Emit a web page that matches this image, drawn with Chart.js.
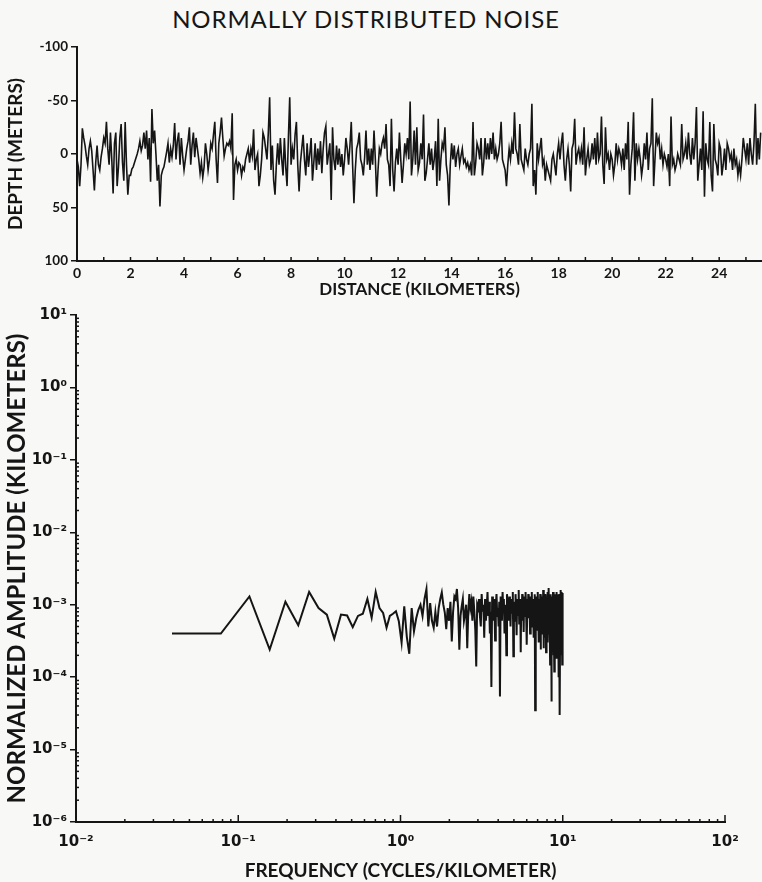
<!DOCTYPE html>
<html>
<head>
<meta charset="utf-8">
<script src="https://cdn.jsdelivr.net/npm/chart.js@4.4.1/dist/chart.umd.min.js"></script>
<style>
  body { margin: 0; background: #f8f8f7; width: 762px; height: 882px; position: relative; overflow: hidden; }
  #title { position: absolute; top: 4px; left: 0; width: 732px; text-align: center;
           font: 400 24px Lato, "DejaVu Sans", sans-serif; color: #161616; letter-spacing: 0.9px; }
  #profile { position: absolute; left: 0; top: 0; }
  #spectrum { position: absolute; left: 0; top: 300px; }
</style>
</head>
<body>
<div id="title">NORMALLY DISTRIBUTED NOISE</div>
<canvas id="profile" width="762" height="300"></canvas>
<canvas id="spectrum" width="762" height="582"></canvas>
<script>
// depth profile, one value every 0.05 km (meters, negative = up)
const SAMPLE_KM = 0.05;
const depth = [
  5, 12, 30, 10, -24, -15, -8, 2, 10, -5, -12, -3, 15, 34, 8, -8, 10, 15, 3, -5,
  -15, -10, -30, -5, 10, -20, 5, 37, -10, -20, 30, 12, -15, -28, 8, 25, -30, 10, 38, 20,
  20, 14, 12, 8, 4, 0, -5, -12, -3, -8, -20, -5, -22, 5, -15, 26, -42, -10, -22, 0,
  25, 10, 49, 20, 15, 12, 5, -2, -10, 8, -5, 3, -8, -29, 5, -12, -20, 10, -15, 2,
  15, 5, -5, -12, -25, 10, -8, -20, 3, -15, -5, 5, 18, 8, 22, 12, -10, 0, 15, 5,
  -10, -5, -18, -30, 5, 27, -10, -20, -34, -15, 2, -5, -10, -8, -12, -5, -38, 43, 10, 5,
  15, 8, 10, 20, 12, 15, 5, 0, -5, 8, -5, 2, -23, 15, 5, 0, 30, 20, 5, -20,
  -15, -5, 5, -20, -53, 15, -8, 25, 38, 10, -10, 10, -15, 5, 20, -15, 12, 30, -15, -53,
  10, -5, 5, -18, -30, 10, 35, 8, -5, -18, 5, 20, -10, 12, 0, -15, 25, 8, -10, 15,
  -5, 10, -12, 18, -5, -20, -26, 10, 0, -10, 43, -25, 5, 15, -8, 10, -5, 12, 0, 20,
  5, -15, -5, 10, -8, -30, 10, 46, 15, -5, -10, -20, 5, 10, 20, 3, -22, 10, -5, 15,
  -5, 10, -22, 5, 40, 15, -5, 0, -10, -15, -5, -28, 5, 10, 30, -33, 15, 35, 8, -5,
  10, -20, 5, 27, 10, -10, 0, -15, 5, -49, 20, 5, -22, 10, -25, 15, 8, -10, 5, -37,
  25, 18, 5, -10, 10, -5, 15, 5, -12, 30, -33, 25, 5, -10, -5, -25, 10, 20, 48, 10,
  -10, 5, -8, 12, 0, -5, 10, 2, -5, 8, 5, 12, 8, 15, 10, 20, -30, 20, 8, -10,
  -5, 5, -15, 20, 8, -15, 5, -10, 5, -15, 0, -20, 5, -5, 5, 0, -10, -30, 5, 10,
  15, 30, 10, -5, 5, -10, 0, -39, -5, 0, 10, -28, 5, 10, 15, -5, 5, 10, 0, -5,
  -47, 30, 15, 38, -10, 5, -5, -15, 10, 5, 25, 10, 15, 20, 25, 5, 0, 10, 20, 0,
  -10, 5, -10, -20, 10, 25, 5, -5, 10, 35, -5, -10, -33, 10, 0, -5, 5, -5, 10, -25,
  20, 5, -5, 10, 5, -10, 5, -15, 10, -20, 5, 0, -35, 10, 28, -25, 5, 0, 15, 0,
  5, 20, 10, -10, 5, -5, 0, 10, -5, 15, -10, 5, -30, 38, 10, -5, -39, 25, -10, 5,
  -5, 5, 20, 10, -10, 5, -20, 15, -5, -10, -52, 30, 5, -20, -10, -15, 5, -5, 10, 0,
  5, 12, 0, 30, -35, 10, 5, 15, 10, 0, 5, 10, -28, 5, 0, -10, 5, -20, 0, 10,
  -15, 5, -10, -44, 25, 10, -5, 15, -40, 40, -10, 5, 10, -30, 20, 35, -28, 5, 10, 20,
  -10, -5, 20, 10, -5, 15, -10, -5, 5, 0, 15, -5, 10, 5, 20, 10, 20, 5, -15, -5,
  5, -10, 10, -15, 0, 10, -10, -47, 10, -15, 5, -20
];
const distanceTicks = [0, 1, 2, 3, 4, 5, 6, 7, 8, 9, 10, 11, 12, 13, 14, 15, 16, 17, 18, 19, 20, 21, 22, 23, 24, 25];
const distanceTickLabels = ['0', '', '2', '', '4', '', '6', '', '8', '', '10', '', '12', '', '14', '', '16', '', '18', '', '20', '', '22', '', '24', ''];
const depthTicks = [-100, -50, 0, 50, 100];
const depthTickLabels = ['-100', '-50', '0', '50', '100'];

// amplitude spectrum, harmonic k = 1..256 of the 25.6 km record
const RECORD_KM = 25.6;
const amplitude = [
  4.0e-4, 4.0e-4, 1.3e-3, 2.4e-4, 1.1e-3, 5.2e-4, 1.5e-3, 9.0e-4, 7.3e-4, 3.4e-4,
  7.3e-4, 7.1e-4, 4.9e-4, 7.0e-4, 7.5e-4, 1.2e-3, 6.6e-4, 1.5e-3, 9.0e-4, 7.7e-4,
  4.8e-4, 7.0e-4, 7.5e-4, 8.1e-4, 5.9e-4, 3.0e-4, 9.5e-4, 3.6e-4, 2.1e-4, 9.0e-4,
  4.3e-4, 6.5e-4, 8.5e-4, 1.0e-3, 7.0e-4, 1.2e-3, 1.65e-3, 5.0e-4, 1.05e-3, 6.0e-4,
  4.8e-4, 8.0e-4, 5.0e-4, 9.0e-4, 1.2e-3, 1.48e-3, 1.0e-3, 7.8e-4, 4.6e-4, 9.0e-4,
  6.0e-4, 1.1e-3, 3.1e-4, 8.0e-4, 1.3e-3, 1.2e-3, 1.65e-3, 9.0e-4, 2.4e-4, 7.0e-4,
  9.5e-4, 1.2e-3, 6.0e-4, 7.5e-4, 1.0e-3, 2.5e-4, 8.0e-4, 1.4e-3, 9.0e-4,
  1.1e-3, 6.0e-4, 1.3e-3, 8.0e-4, 4.5e-4, 1.4e-4, 1.0e-3, 9.0e-4, 1.2e-3, 7.0e-4,
  5.0e-4, 1.4e-3, 8.0e-4, 1.0e-3, 3.5e-4, 1.2e-3, 6.0e-4, 9.0e-4, 1.5e-3, 7.0e-4,
  1.1e-3, 4.0e-4, 8.0e-4, 7.3e-5, 1.3e-3, 9.0e-4, 6.0e-4, 1.2e-3, 3.2e-4, 1.0e-3,
  1.4e-3, 7.0e-4, 9.0e-4, 5.0e-4, 1.1e-3, 5.4e-5, 1.3e-3, 8.0e-4, 6.0e-4, 1.5e-3,
  9.0e-4, 1.2e-3, 4.0e-4, 1.0e-3, 7.0e-4, 2.0e-4, 1.4e-3, 1.1e-3, 8.0e-4, 6.0e-4,
  1.3e-3, 9.0e-4, 5.0e-4, 1.2e-3, 7.5e-4, 1.0e-3, 1.5e-3, 1.95e-4, 8.0e-4, 1.1e-3,
  6.0e-4, 1.4e-3, 9.0e-4, 3.8e-4, 1.2e-3, 7.0e-4, 1.0e-3, 1.6e-3, 5.5e-4, 9.0e-4,
  1.2e-3, 2.2e-4, 1.1e-3, 8.0e-4, 1.4e-3, 6.0e-4, 1.0e-3, 4.2e-4, 1.3e-3, 9.0e-4,
  7.0e-4, 1.5e-3, 1.0e-3, 5.0e-4, 2.8e-4, 1.2e-3, 8.0e-4, 1.4e-3, 6.5e-4, 1.1e-3,
  9.0e-4, 4.0e-4, 1.3e-3, 1.0e-3, 7.0e-4, 1.5e-3, 5.0e-4, 1.1e-3, 8.0e-4, 3.5e-4,
  1.2e-3, 9.0e-4, 1.4e-3, 3.5e-5, 1.0e-3, 6.0e-4, 1.3e-3, 8.0e-4, 4.5e-4, 1.1e-3,
  1.5e-3, 7.0e-4, 3.0e-4, 1.2e-3, 9.0e-4, 5.0e-4, 1.4e-3, 2.4e-4, 1.0e-3, 8.0e-4,
  1.3e-3, 4.0e-4, 1.1e-3, 6.0e-4, 1.6e-3, 2.5e-4, 9.0e-4, 1.2e-3, 3.5e-4, 1.4e-3,
  7.0e-4, 1.0e-3, 2.2e-4, 1.3e-3, 8.0e-4, 5.0e-4, 1.5e-3, 3.0e-4, 1.1e-3, 9.0e-4,
  1.7e-3, 4.0e-4, 1.2e-3, 6.0e-4, 1.5e-4, 1.4e-3, 8.0e-4, 1.0e-3, 4.6e-5, 1.3e-3,
  3.0e-4, 1.1e-3, 7.0e-4, 1.5e-3, 2.0e-4, 9.0e-4, 1.2e-3, 1.2e-4, 1.4e-3, 5.0e-4,
  1.0e-3, 2.5e-4, 1.3e-3, 8.0e-4, 1.8e-4, 1.5e-3, 6.0e-4, 1.1e-3, 3.0e-4, 1.2e-3,
  7.0e-4, 1.0e-4, 1.4e-3, 9.0e-4, 4.0e-4, 1.3e-3, 3.0e-5, 1.0e-3, 2.0e-4, 1.6e-3,
  6.0e-4, 1.2e-3, 3.0e-4, 1.5e-3, 1.5e-4, 1.1e-3, 1.45e-3
];
const freqTicks = [0.01, 0.1, 1, 10, 100];
const freqTickLabels = ['10⁻²', '10⁻¹', '10⁰', '10¹', '10²'];
const ampTicks = [1e-6, 1e-5, 1e-4, 1e-3, 1e-2, 1e-1, 1, 10];
const ampTickLabels = ['10⁻⁶', '10⁻⁵', '10⁻⁴', '10⁻³', '10⁻²', '10⁻¹', '10⁰', '10¹'];

const INK = '#151515';
const FONT = 'Lato, "DejaVu Sans", sans-serif';
const tickFont = { family: FONT, size: 14, weight: 'bold' };
const powerFont = { family: '"DejaVu Sans", sans-serif', size: 15, weight: 'bold' };

// small tick marks drawn inward from the axis line
const innerTicks = {
  id: 'innerTicks',
  afterDraw(chart, args, opts) {
    const { ctx, chartArea } = chart;
    ctx.save();
    ctx.strokeStyle = INK;
    ctx.lineWidth = 1.5;
    (opts.x || []).forEach(t => {
      const px = chart.scales.x.getPixelForValue(t.v);
      ctx.beginPath();
      ctx.moveTo(px, chartArea.bottom);
      ctx.lineTo(px, chartArea.bottom - t.len);
      ctx.stroke();
    });
    (opts.y || []).forEach(t => {
      const py = chart.scales.y.getPixelForValue(t.v);
      ctx.beginPath();
      ctx.moveTo(chartArea.left, py);
      ctx.lineTo(chartArea.left + t.len, py);
      ctx.stroke();
    });
    ctx.restore();
  }
};

function makeProfileChart() {
  const points = depth.map((d, i) => ({ x: i * SAMPLE_KM, y: d }));
  return new Chart(document.getElementById('profile'), {
    type: 'line',
    data: { datasets: [{ data: points, borderColor: INK, borderWidth: 1.6, pointRadius: 0, tension: 0 }] },
    plugins: [innerTicks],
    options: {
      responsive: false,
      animation: false,
      layout: { padding: { top: 47, right: 0, left: 0, bottom: 0 } },
      scales: {
        x: {
          type: 'linear', min: 0, max: 25.6,
          afterBuildTicks: s => { s.ticks = distanceTicks.map(v => ({ value: v })); },
          afterFit: s => { s.height = 39; },
          ticks: { callback: (v, i) => distanceTickLabels[i], font: tickFont, color: INK, padding: 4, maxRotation: 0, autoSkip: false },
          grid: { display: false, drawTicks: false },
          border: { color: INK, width: 2 },
          title: { display: true, text: 'DISTANCE (KILOMETERS)', font: { family: FONT, size: 17, weight: 'bold' }, color: INK, padding: { top: 0, bottom: 0 } }
        },
        y: {
          type: 'linear', min: -100, max: 100, reverse: true,
          afterBuildTicks: s => { s.ticks = depthTicks.map(v => ({ value: v })); },
          afterFit: s => { s.width = 77; },
          ticks: { callback: (v, i) => depthTickLabels[i], font: { family: FONT, size: 13.5, weight: 'bold' }, color: INK, padding: 3 },
          grid: { drawOnChartArea: false, tickLength: 6, color: INK, lineWidth: 1.5 },
          border: { color: INK, width: 2 },
          title: { display: true, text: 'DEPTH (METERS)', font: { family: FONT, size: 19, weight: 'bold' }, color: INK, padding: { top: 4, bottom: 0 } }
        }
      },
      plugins: {
        legend: { display: false },
        tooltip: { enabled: false },
        innerTicks: { x: distanceTicks.map(v => ({ v: v, len: 4 })) }
      }
    }
  });
}

function makeSpectrumChart() {
  const points = amplitude.map((a, i) => ({ x: (i + 1) / RECORD_KM, y: a }));
  const minors = decades => decades.slice(0, -1).flatMap(d => [2, 3, 4, 5, 6, 7, 8, 9].map(m => ({ v: m * d, len: 3 })));
  return new Chart(document.getElementById('spectrum'), {
    type: 'line',
    data: { datasets: [{ data: points, borderColor: INK, borderWidth: 2, pointRadius: 0, tension: 0 }] },
    plugins: [innerTicks],
    options: {
      responsive: false,
      animation: false,
      layout: { padding: { top: 15, right: 37, left: 0, bottom: 0 } },
      scales: {
        x: {
          type: 'logarithmic', min: 0.01, max: 100,
          afterBuildTicks: s => { s.ticks = freqTicks.map(v => ({ value: v })); },
          afterFit: s => { s.height = 60; },
          ticks: { callback: (v, i) => freqTickLabels[i], font: powerFont, color: INK, padding: 11, maxRotation: 0, autoSkip: false },
          grid: { display: false, drawTicks: false },
          border: { color: INK, width: 2 },
          title: { display: true, text: 'FREQUENCY (CYCLES/KILOMETER)', font: { family: FONT, size: 19, weight: 'bold' }, color: INK, padding: { top: 0, bottom: 0 } }
        },
        y: {
          type: 'logarithmic', min: 1e-6, max: 10,
          afterBuildTicks: s => { s.ticks = ampTicks.map(v => ({ value: v })); },
          afterFit: s => { s.width = 76; },
          ticks: { callback: (v, i) => ampTickLabels[i], font: powerFont, color: INK, padding: 3 },
          grid: { drawOnChartArea: false, tickLength: 6, color: INK, lineWidth: 1.5 },
          border: { color: INK, width: 2 },
          title: { display: true, text: 'NORMALIZED AMPLITUDE (KILOMETERS)', font: { family: FONT, size: 24, weight: 'bold' }, color: INK, padding: { top: 3, bottom: 0 } }
        }
      },
      plugins: {
        legend: { display: false },
        tooltip: { enabled: false },
        innerTicks: {
          x: freqTicks.map(v => ({ v: v, len: 7 })).concat(minors(freqTicks)),
          y: minors(ampTicks)
        }
      }
    }
  });
}

makeProfileChart();
makeSpectrumChart();
</script>
</body>
</html>
